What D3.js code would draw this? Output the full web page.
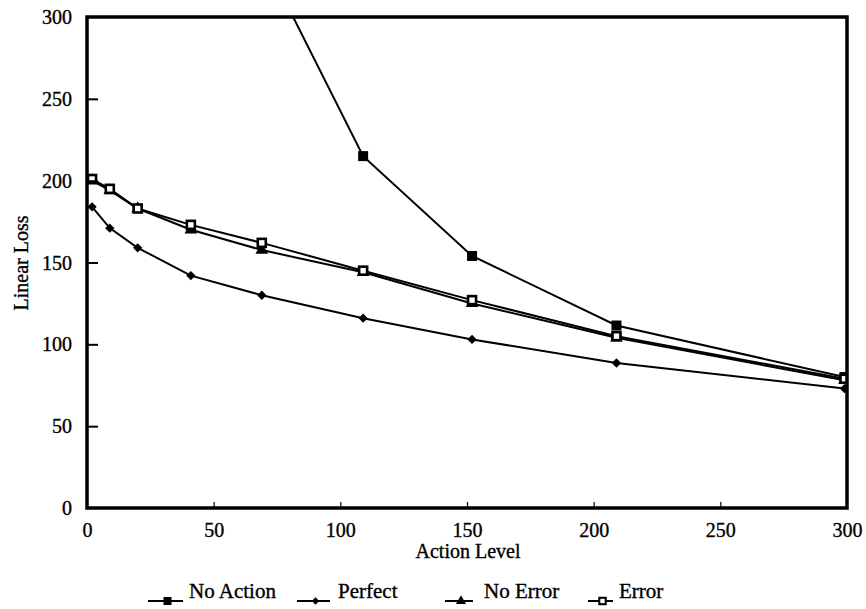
<!DOCTYPE html>
<html>
<head>
<meta charset="utf-8">
<script src="https://cdn.jsdelivr.net/npm/d3@7"></script>
<style>
  body { margin: 0; background: #fff; }
  svg text { font-family: "Liberation Serif", "DejaVu Serif", serif; fill: #000; stroke: #000; stroke-width: 0.35px; }
</style>
</head>
<body>
<div id="chart"></div>
<script>
// action levels (x)
const actionLevels = [2, 9, 20, 41, 69, 109, 152, 209, 299]

// linear loss for each series (values above 300 run off the top of the plot)
const noAction = [800, 720, 600, 450, 338, 215, 154, 111.5, 80]
const perfect  = [184, 171, 159, 142, 130, 116, 103, 88.6, 73]
const noError  = [200, 194, 183, 170, 157.6, 144, 125, 104, 78]
const errorVals = [201, 195, 183, 173, 162, 145, 127, 105, 79]

const xTicks = [0, 50, 100, 150, 200, 250, 300]
const yTicks = [0, 50, 100, 150, 200, 250, 300]

const seriesNames = ["No Action", "Perfect", "No Error", "Error"]
const seriesValues = [noAction, perfect, noError, errorVals]
const seriesMarkers = ["square", "diamond", "triangle", "openSquare"]

const width = 866
const height = 609
const margin = {top: 17, right: 19, bottom: 101, left: 87}

const svg = d3.select("#chart")
              .append("svg")
              .attr("width", width)
              .attr("height", height)

const x = d3.scaleLinear().domain([0, 300]).range([margin.left, width - margin.right])
const y = d3.scaleLinear().domain([0, 300]).range([height - margin.bottom, margin.top])

svg.append("clipPath")
   .attr("id", "plot-clip")
   .append("rect")
   .attr("x", x(0))
   .attr("y", y(300))
   .attr("width", x(300) - x(0))
   .attr("height", y(0) - y(300))

// markers
function drawMarker(g, type, cx, cy, s) {
  s = s || 1
  if (type === "square") {
    g.append("rect").attr("x", cx - 5 * s).attr("y", cy - 5 * s).attr("width", 10 * s).attr("height", 10 * s).attr("fill", "#000")
  } else if (type === "openSquare") {
    g.append("rect").attr("x", cx - 4 * s).attr("y", cy - 4 * s).attr("width", 8 * s).attr("height", 8 * s)
     .attr("fill", "#fff").attr("stroke", "#000").attr("stroke-width", 2.6 * s)
  } else if (type === "diamond") {
    g.append("path").attr("d", d3.symbol(d3.symbolDiamond2, 55 * s * s)()).attr("transform", `translate(${cx},${cy})`).attr("fill", "#000")
  } else {
    g.append("path").attr("d", d3.symbol(d3.symbolTriangle, 70 * s * s)()).attr("transform", `translate(${cx},${cy})`).attr("fill", "#000")
  }
}

const line = d3.line()
               .x(d => x(d[0]))
               .y(d => y(d[1]))

const plot = svg.append("g").attr("clip-path", "url(#plot-clip)")

seriesValues.forEach((vals, i) => {
  const pts = actionLevels.map((a, j) => [a, vals[j]])
  plot.append("path")
      .attr("d", line(pts))
      .attr("fill", "none")
      .attr("stroke", "#000")
      .attr("stroke-width", 2)
})

// draw markers after all lines so they sit on top
seriesValues.forEach((vals, i) => {
  const g = plot.append("g").attr("class", "markers")
  actionLevels.forEach((a, j) => {
    if (vals[j] <= 300) drawMarker(g, seriesMarkers[i], x(a), y(vals[j]))
  })
})

// frame
svg.append("rect")
   .attr("x", x(0))
   .attr("y", y(300))
   .attr("width", x(300) - x(0))
   .attr("height", y(0) - y(300))
   .attr("fill", "none")
   .attr("stroke", "#000")
   .attr("stroke-width", 3.5)

// y axis: ticks point inwards
const yAxis = svg.append("g")
                 .attr("transform", `translate(${x(0)},0)`)
                 .call(d3.axisLeft(y).tickValues(yTicks).tickSize(0).tickPadding(15))
yAxis.select(".domain").remove()
yAxis.selectAll("text").attr("font-size", 20).attr("dy", "0.33em")
yAxis.selectAll(".tick").filter(d => d > 0 && d < 300)
     .append("line").attr("x1", 0).attr("x2", 11).attr("stroke", "#000").attr("stroke-width", 2)

// x axis: small inward ticks
const xAxis = svg.append("g")
                 .attr("transform", `translate(0,${y(0)})`)
                 .call(d3.axisBottom(x).tickValues(xTicks).tickSize(0).tickPadding(15))
xAxis.select(".domain").remove()
xAxis.selectAll("text").attr("font-size", 20)
xAxis.selectAll(".tick").filter(d => d > 0 && d < 300)
     .append("line").attr("y1", 0).attr("y2", -6).attr("stroke", "#000").attr("stroke-width", 1.2)

// axis titles
svg.append("text")
   .attr("x", (x(0) + x(300)) / 2 + 1)
   .attr("y", 558)
   .attr("text-anchor", "middle")
   .attr("font-size", 20)
   .text("Action Level")

svg.append("text")
   .attr("transform", `translate(28,${263}) rotate(-90)`)
   .attr("text-anchor", "middle")
   .attr("font-size", 20)
   .text("Linear Loss")

// legend
const legendPos = [
  {lx1: 148, lx2: 183, tx: 189},
  {lx1: 297, lx2: 330, tx: 338},
  {lx1: 445, lx2: 473, tx: 484},
  {lx1: 588, lx2: 613, tx: 619}
]

const legend = svg.append("g").attr("class", "legend")
seriesNames.forEach((name, i) => {
  const p = legendPos[i]
  const g = legend.append("g")
  g.append("line")
   .attr("x1", p.lx1).attr("x2", p.lx2)
   .attr("y1", 601).attr("y2", 601)
   .attr("stroke", "#000").attr("stroke-width", 2)
  drawMarker(g, seriesMarkers[i], (p.lx1 + p.lx2) / 2 + 2, 601, 0.8)
  g.append("text")
   .attr("x", p.tx)
   .attr("y", 598)
   .attr("font-size", 21)
   .text(name)
})
</script>
</body>
</html>
